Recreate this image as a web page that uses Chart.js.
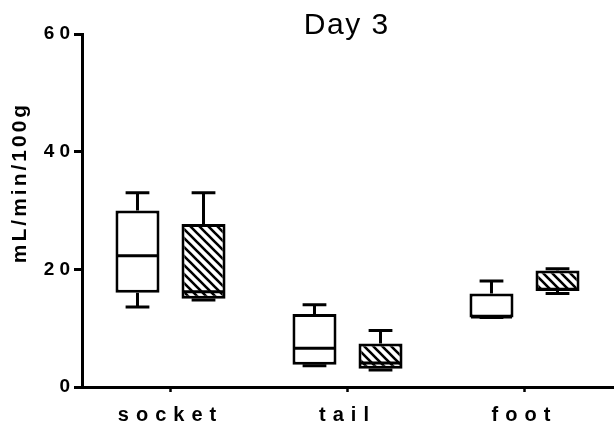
<!DOCTYPE html>
<html>
<head>
<meta charset="utf-8">
<script src="https://cdn.jsdelivr.net/npm/chart.js@4/dist/chart.umd.min.js"></script>
<style>
  html, body { margin: 0; padding: 0; background: #fff; }
  canvas { display: block; }
</style>
</head>
<body>
<canvas id="c" width="614" height="437"></canvas>
<script>
// Blood flow on day 3, per site: box = quartiles, line = median, whiskers = min/max
const chartTitle = 'Day 3';
const yTitle = 'mL/min/100g';
const categories = ['socket', 'tail', 'foot'];
const yTicks = [0, 20, 40, 60];

// open boxes
const openMin    = [13.6, 3.6, 11.8];
const openQ1     = [16.0, 3.8, 11.8];
const openMedian = [22.3, 6.6, 11.9];
const openQ3     = [30.0, 12.4, 15.9];
const openMax    = [33.0, 14.0, 18.0];

// hatched boxes
const hatchMin    = [14.8, 2.9, 15.9];
const hatchQ1     = [15.0, 3.1, 16.3];
const hatchMedian = [16.2, 4.1, 16.6];
const hatchQ3     = [27.7, 7.4, 19.8];
const hatchMax    = [33.0, 9.6, 20.1];

const ctx = document.getElementById('c').getContext('2d');
const FONT = '"Liberation Sans", Arial, sans-serif';

// diagonal "\" hatch fill
function makeHatch() {
  const s = 9;
  const t = document.createElement('canvas');
  t.width = s; t.height = s;
  const g = t.getContext('2d');
  g.fillStyle = '#fff';
  g.fillRect(0, 0, s, s);
  g.strokeStyle = '#000';
  g.lineWidth = 2.6;
  g.beginPath();
  g.moveTo(-2, -2); g.lineTo(s + 2, s + 2);
  g.moveTo(-2 - s, -2); g.lineTo(2, s + 2);
  g.moveTo(s - 2, -2); g.lineTo(2 * s + 2, s + 2);
  g.stroke();
  return ctx.createPattern(t, 'repeat');
}

const series = [
  { min: openMin, q1: openQ1, med: openMedian, q3: openQ3, max: openMax, fill: '#fff' },
  { min: hatchMin, q1: hatchQ1, med: hatchMedian, q3: hatchQ3, max: hatchMax, fill: makeHatch() }
];

// whiskers, caps and medians drawn on top of the quartile bars
const boxPlot = {
  id: 'boxPlot',
  afterDatasetsDraw(chart) {
    const y = chart.scales.y;
    const c = chart.ctx;
    c.save();
    c.strokeStyle = '#000';
    c.lineWidth = 3;
    c.lineCap = 'butt';
    series.forEach((s, d) => {
      chart.getDatasetMeta(d).data.forEach((el, i) => {
        const { x, width } = el.getProps(['x', 'width'], true);
        const half = width / 2;
        const cap = width * 0.27;
        const pMin = y.getPixelForValue(s.min[i]);
        const pQ1 = y.getPixelForValue(s.q1[i]);
        const pMed = y.getPixelForValue(s.med[i]);
        const pQ3 = y.getPixelForValue(s.q3[i]);
        const pMax = y.getPixelForValue(s.max[i]);
        c.beginPath();
        c.moveTo(x, pQ3); c.lineTo(x, pMax);
        c.moveTo(x - cap, pMax); c.lineTo(x + cap, pMax);
        c.moveTo(x, pQ1); c.lineTo(x, pMin);
        c.moveTo(x - cap, pMin); c.lineTo(x + cap, pMin);
        c.moveTo(x - half + 1.5, pMed); c.lineTo(x + half - 1.5, pMed);
        c.stroke();
      });
    });
    c.restore();
  }
};

// spaced-out lettering: tick labels per axis, plus title and axis title
const spacing = { x: '7px', y: '5px' };
const lettering = {
  id: 'lettering',
  beforeDraw(chart) {
    Object.keys(spacing).forEach((id) => {
      const s = chart.scales[id];
      if (s && !s._spaced) {
        const orig = s.drawLabels;
        s.drawLabels = function (area) {
          this.ctx.save();
          this.ctx.letterSpacing = spacing[id];
          orig.call(this, area);
          this.ctx.restore();
        };
        s._spaced = true;
      }
    });
  },
  afterDraw(chart) {
    const c = chart.ctx;
    c.save();
    c.fillStyle = '#000';
    c.letterSpacing = '1.5px';
    c.font = '30px ' + FONT;
    c.textAlign = 'center';
    c.textBaseline = 'alphabetic';
    c.fillText(chartTitle, 346 + 0.75, 34);
    c.restore();

    c.save();
    c.fillStyle = '#000';
    c.letterSpacing = '3px';
    c.font = 'bold 21px ' + FONT;
    c.textAlign = 'center';
    c.textBaseline = 'alphabetic';
    c.translate(26, 184);
    c.rotate(-Math.PI / 2);
    c.fillText(yTitle, 1.5, 0);
    c.restore();
  }
};

new Chart(ctx, {
  type: 'bar',
  data: {
    labels: categories,
    datasets: series.map((s) => ({
      data: categories.map((_, i) => [s.q1[i], s.q3[i]]),
      backgroundColor: s.fill,
      borderColor: '#000',
      borderWidth: 3,
      borderSkipped: false,
      categoryPercentage: 0.746,
      barPercentage: 0.667
    }))
  },
  options: {
    responsive: false,
    animation: false,
    events: [],
    layout: { padding: { top: 34, right: 1, left: 0, bottom: 0 } },
    plugins: { legend: { display: false }, tooltip: { enabled: false }, title: { display: false } },
    scales: {
      x: {
        offset: true,
        grid: { display: true, offset: false, drawOnChartArea: false, drawTicks: true, tickLength: 5, tickWidth: 2.5, tickColor: '#000' },
        border: { display: true, color: '#000', width: 3 },
        ticks: { color: '#000', padding: 11, font: { family: FONT, size: 20, weight: 'bold' } },
        afterFit(scale) { scale.height = 50; }
      },
      y: {
        min: 0,
        max: 60,
        afterBuildTicks(scale) { scale.ticks = yTicks.map((v) => ({ value: v })); },
        grid: { display: true, drawOnChartArea: false, drawTicks: true, tickLength: 8, tickWidth: 3, tickColor: '#000' },
        border: { display: true, color: '#000', width: 3 },
        ticks: { color: '#000', padding: -1, font: { family: FONT, size: 19, weight: 'bold' } },
        afterFit(scale) { scale.width = 82; }
      }
    }
  },
  plugins: [boxPlot, lettering]
});
</script>
</body>
</html>
